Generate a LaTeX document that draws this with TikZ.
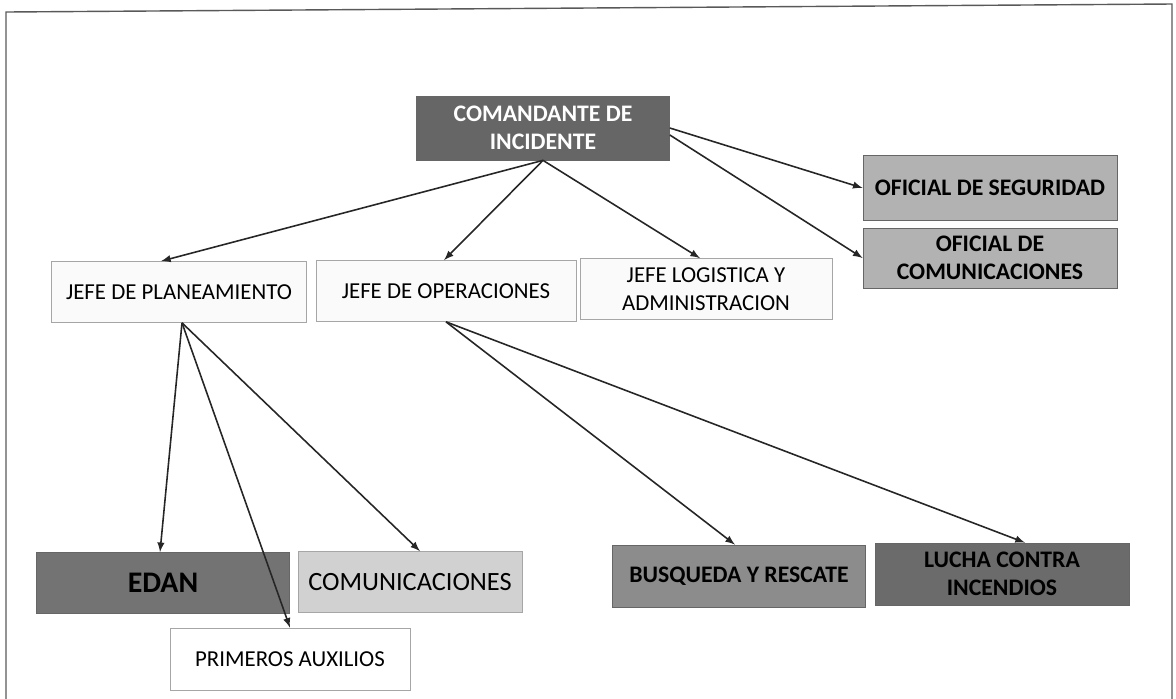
\documentclass[tikz,border=0pt]{standalone}
\usepackage{fontspec}
\setmainfont{Carlito}
\usetikzlibrary{calc}
\tikzset{cargo/.style={
    draw=gray!70, fill=gray!4, align=center, inner sep=1pt,
    minimum height=1.22cm, font=\fontsize{13}{16}\selectfont},
    oscuro/.style={cargo, draw=gray!80!black, font=\fontsize{13.5}{16}\selectfont\bfseries},
    enlace/.style={draw=black!85, line width=0.9pt, -latex}
}

\begin{document}
\begin{tikzpicture}[x=0.02cm, y=-0.02cm]
        \useasboundingbox (0,0) rectangle (1176,698);
        % marco de la hoja
        \draw[gray!70!black, line width=0.8pt] (6,700) -- (6,12) -- (1172,4) -- (1172,700);
        
        %mando
        \node[oscuro, fill=black!60, text=white, minimum width=5.06cm, minimum height=1.28cm](cmd) at (543,128){COMANDANTE DE\\INCIDENTE};
        \node[oscuro, fill=black!30, minimum width=5.08cm, minimum height=1.3cm](seg) at (990,188){OFICIAL DE SEGURIDAD};
        \node[oscuro, fill=black!30, minimum width=5.08cm, minimum height=1.2cm](ofc) at (990,258){OFICIAL DE\\COMUNICACIONES};
        
        %jefaturas
        \node[cargo, minimum width=5.1cm](pla) at (179,292){JEFE DE PLANEAMIENTO};
        \node[cargo, minimum width=5.2cm](ope) at (446,291){JEFE DE OPERACIONES};
        \node[cargo, minimum width=5.04cm](log) at (706,289){JEFE LOGISTICA Y\\ADMINISTRACION};
        
        %unidades
        \node[oscuro, fill=black!55, minimum width=5.06cm, font=\fontsize{17}{20}\selectfont\bfseries](edan) at (163,583){EDAN};
        \node[cargo, fill=black!18, minimum width=4.48cm, font=\fontsize{15}{18}\selectfont](com) at (410,582){COMUNICACIONES};
        \node[cargo, fill=white, minimum width=4.8cm, minimum height=1.24cm](aux) at (290,659){PRIMEROS AUXILIOS};
        \node[oscuro, fill=black!45, minimum width=5.06cm, minimum height=1.24cm](bus) at (739,576){BUSQUEDA Y RESCATE};
        \node[oscuro, fill=black!58, minimum width=5.08cm, minimum height=1.24cm](luc) at (1002,574){LUCHA CONTRA\\INCENDIOS};
        
        %enlaces
        \draw[enlace] (cmd.south) to ([xshift=-0.36cm]pla.north);
        \draw[enlace] (cmd.south) to ([xshift=-0.04cm]ope.north);
        \draw[enlace] (cmd.south) to ([xshift=-0.12cm]log.north);
        \draw[enlace] ([yshift=-0.0cm]cmd.east) to (seg.west);
        \draw[enlace] ([yshift=-0.14cm]cmd.east) to (ofc.west);
        
        \draw[enlace] ([xshift=0.06cm]pla.south) to ([xshift=-0.06cm]edan.north);
        \draw[enlace] ([xshift=0.06cm]pla.south) to (aux.north);
        \draw[enlace] ([xshift=0.06cm]pla.south) to ([xshift=0.2cm]com.north);
        \draw[enlace] (ope.south) to ([xshift=-0.08cm]bus.north);
        \draw[enlace] (ope.south) to ([xshift=0.46cm]luc.north);
        
\end{tikzpicture}
\end{document}
